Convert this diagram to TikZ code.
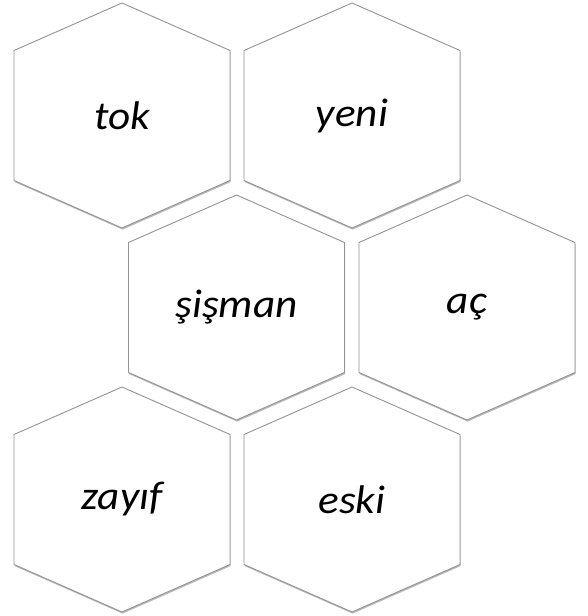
\documentclass[tikz,border=0pt]{standalone}
\usepackage{fontspec}
\setmainfont{Carlito}
\usetikzlibrary{shadows}

\tikzset{
  hexcell/.style={draw=gray!85,fill=white,line width=0.9pt,line join=round,
    drop shadow={shadow xshift=0.6pt,shadow yshift=-1.6pt,opacity=0.55}},
  word/.style={font=\fontsize{40}{44}\selectfont\itshape,xscale=1.08}
}

\begin{document}
\begin{tikzpicture}[x=1pt,y=1pt]
\useasboundingbox (0,0) rectangle (588,616);
\foreach \cx/\cy/\txt/\id in {122/500.5/tok/tok, 352/500.5/yeni/yeni,
    236.5/308.5/şişman/sisman, 467/308.5/aç/ac,
    122/116.5/zayıf/zayif, 352/116.5/eski/eski}{
  \draw[hexcell] (\cx,\cy) +(0,112.5) -- +(108,65) -- +(108,-65)
    -- +(0,-112.5) -- +(-108,-65) -- +(-108,65) -- cycle;
  \node[word] (\id) at (\cx,\cy) {\txt};
}
\end{tikzpicture}
\end{document}
